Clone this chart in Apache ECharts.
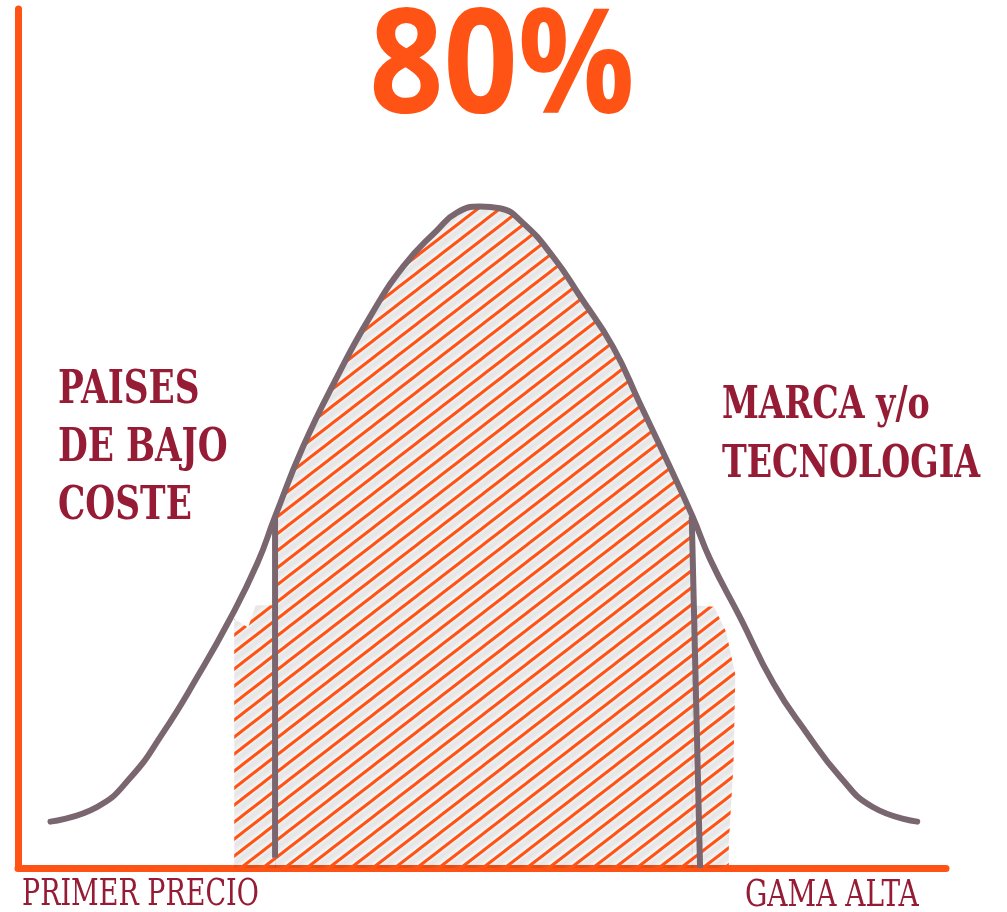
<!DOCTYPE html>
<html>
<head>
<meta charset="utf-8">
<script src="https://cdn.jsdelivr.net/npm/echarts@6/dist/echarts.min.js"></script>
<style>
  html, body { margin: 0; padding: 0; background: #fff; }
  #main { width: 1007px; height: 912px; }
</style>
</head>
<body>
<div id="main"></div>
<script>
  // curva de distribucion (x: precio 0-100, y: cuota 0-100)
  const curveX = [3.5, 8.5, 12.1, 15.6, 19.3, 22.8, 25.8, 27.7, 30.7, 34.4, 37.9, 41.5, 45.2, 47.3, 49.8,
    51.9, 54.4, 57.7, 60.6, 64.1, 67.0, 69.9, 72.7, 74.6, 77.8, 81.4, 85.0, 88.6, 92.1, 96.9];
  const curveY = [5.4, 7.1, 10.5, 15.7, 22.2, 28.9, 35.5, 40.9, 49.0, 57.2, 64.1, 70.0, 74.3, 76.3, 77.0,
    76.8, 75.1, 71.1, 66.5, 60.7, 54.1, 47.5, 40.9, 35.9, 29.2, 21.5, 15.7, 10.6, 7.1, 5.4];

  // zona rayada central (80%) y bordes inferiores
  const hatchX = [27.7, 30.7, 34.4, 37.9, 41.5, 45.2, 47.3, 49.8,
    51.9, 54.4, 57.7, 60.6, 64.1, 67.0, 69.9, 72.7];
  const hatchY = [40.9, 49.0, 57.2, 64.1, 70.0, 74.3, 76.3, 77.0,
    76.8, 75.1, 71.1, 66.5, 60.7, 54.1, 47.5, 40.9];
  const leftEdge = [[23.3, 29.0], [24.8, 28.0], [25.6, 30.6], [27.8, 30.6]];
  const rightEdge = [[72.6, 30.6], [75.0, 30.4], [76.3, 27.5], [77.3, 22.5], [77.1, 12.0], [76.6, 3.0]];

  // limites verticales
  const leftLimit = [[27.7, 40.9], [27.7, 1.2]];
  const rightLimit = [[72.6, 40.9], [73.5, 0]];

  const bigLabel = '80%';
  const leftLabel = ['PAISES', 'DE BAJO', 'COSTE'];
  const rightLabel = ['MARCA y/o', 'TECNOLOGIA'];
  const axisStart = 'PRIMER PRECIO';
  const axisEnd = 'GAMA ALTA';

  const ORANGE = '#ff5316';
  const CURVE = '#7a666f';
  const RED = '#961c35';

  // patron de rayas con sombra
  function makeHatch() {
    const W = 22, H = 17;
    const c = document.createElement('canvas');
    c.width = W; c.height = H;
    const ctx = c.getContext('2d');
    ctx.strokeStyle = ORANGE;
    ctx.lineWidth = 3;
    ctx.shadowColor = 'rgba(0,0,0,0.3)';
    ctx.shadowBlur = 7;
    ctx.shadowOffsetX = 2;
    ctx.shadowOffsetY = 6;
    for (let n = -3; n <= 3; n++) {
      ctx.beginPath();
      ctx.moveTo(-2 * W, H * (1 + n) + 2 * H);
      ctx.lineTo(3 * W, H * (1 + n) - 3 * H);
      ctx.stroke();
    }
    return c;
  }
  const hatch = { image: makeHatch(), repeat: 'repeat' };

  function text(str, x, y, size, weight, sx, color, family) {
    return {
      type: 'text', x: x, y: y, scaleX: sx, z: 10,
      style: {
        text: str, fill: color,
        font: weight + ' ' + size + 'px ' + family,
        textAlign: 'left', textVerticalAlign: 'middle'
      }
    };
  }

  const slab = '"DejaVu Serif Condensed", "DejaVu Serif", serif';
  const graphics = [];
  leftLabel.forEach((s, i) => graphics.push(text(s, 58, 391 + i * 58, 46, 'bold', 0.83, RED, slab)));
  rightLabel.forEach((s, i) => graphics.push(text(s, 722, 407 + i * 59, 44, 'bold', 0.84, RED, slab)));
  graphics.push(text(axisStart, 22, 895, 37, 'normal', 0.81, RED, slab));
  graphics.push(text(axisEnd, 745, 896, 37, 'normal', 0.84, RED, slab));
  graphics.push({
    type: 'text', x: 502, y: 71, scaleX: 0.89, z: 10,
    style: {
      text: bigLabel, fill: ORANGE,
      font: 'bold 146px "Open Sans", sans-serif',
      textAlign: 'center', textVerticalAlign: 'middle'
    }
  });

  const chart = echarts.init(document.getElementById('main'));
  chart.setOption({
    animation: false,
    grid: { left: 18, right: 61, top: 9, bottom: 44 },
    xAxis: {
      type: 'value', min: 0, max: 100,
      axisLine: { show: true, onZero: false, lineStyle: { color: ORANGE, width: 7, cap: 'round' } },
      axisTick: { show: false }, axisLabel: { show: false }, splitLine: { show: false }
    },
    yAxis: {
      type: 'value', min: 0, max: 100,
      axisLine: { show: true, lineStyle: { color: ORANGE, width: 7, cap: 'round' } },
      axisTick: { show: false }, axisLabel: { show: false }, splitLine: { show: false }
    },
    series: [
      {
        type: 'line', name: 'rayado', z: 2,
        data: hatchX.map((x, i) => [x, hatchY[i]]),
        smooth: 0.5, symbol: 'none', lineStyle: { width: 0 },
        areaStyle: { color: hatch, opacity: 1 }
      },
      {
        type: 'line', name: 'borde izq', z: 2, data: leftEdge,
        symbol: 'none', lineStyle: { width: 0 },
        areaStyle: { color: hatch, opacity: 1 }
      },
      {
        type: 'line', name: 'borde der', z: 2, data: rightEdge,
        symbol: 'none', lineStyle: { width: 0 },
        areaStyle: { color: hatch, opacity: 1 }
      },
      {
        type: 'line', name: 'curva', z: 4,
        data: curveX.map((x, i) => [x, curveY[i]]),
        smooth: 0.5, symbol: 'none',
        lineStyle: { color: CURVE, width: 6, cap: 'round' }
      },
      {
        type: 'line', name: 'min', z: 3, data: leftLimit, symbol: 'none',
        lineStyle: { color: CURVE, width: 6 }
      },
      {
        type: 'line', name: 'max', z: 3, data: rightLimit, symbol: 'none',
        lineStyle: { color: CURVE, width: 6 }
      }
    ],
    graphic: graphics
  });
</script>
</body>
</html>
